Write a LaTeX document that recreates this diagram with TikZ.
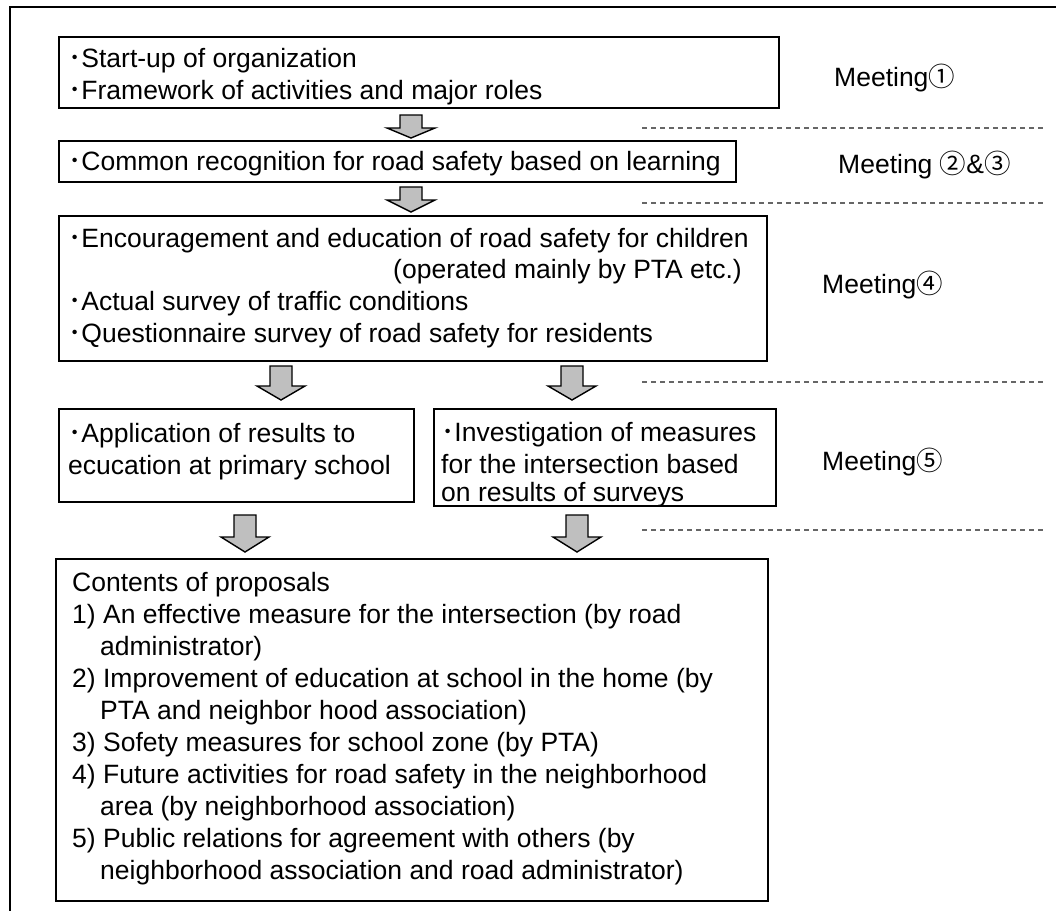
\documentclass[tikz,border=0pt]{standalone}
\usepackage{fontspec}
\setmainfont{Liberation Sans}
\newfontfamily\cjk{Noto Sans CJK JP}
\newcommand\bul{{\cjk ･}}
\newcommand\cnum[1]{{\cjk #1}}
\newcommand\blockdown[4]{%
  \draw[blk] (#1-11,#2) -- (#1+11,#2) -- (#1+11,#3) -- (#1+24,#3) -- (#1,#4)
     -- (#1-24,#3) -- (#1-11,#3) -- cycle;}
\begin{document}
\begin{tikzpicture}[x=1pt,y=-1pt,
  box/.style={draw, line width=1.8pt, inner sep=0pt, anchor=north west},
  txt/.style={anchor=base west, inner sep=0pt, font=\fontsize{26.5}{32}\selectfont},
  mtg/.style={anchor=base west, inner sep=0pt, font=\fontsize{26.5}{32}\selectfont},
  sepline/.style={draw=black!60, line width=1.1pt, dash pattern=on 5pt off 4pt},
  blk/.style={draw=black, line width=1.4pt, fill=black!25, line join=miter}]
\useasboundingbox (0,0) rectangle (1056,910);
\fill[white] (0,0) rectangle (1056,910);
% outer frame
\draw[line width=2.8pt] (10,920) -- (10,7) -- (1070,7);
% boxes
\node[box, minimum width=720, minimum height=71]  (b1)  at (58,36) {};
\node[box, minimum width=677, minimum height=41]  (b2)  at (58,140) {};
\node[box, minimum width=708, minimum height=145] (b3)  at (58,215) {};
\node[box, minimum width=355, minimum height=93]  (b4a) at (58,408) {};
\node[box, minimum width=342, minimum height=97]  (b4b) at (433,408) {};
\node[box, minimum width=712, minimum height=342] (b5)  at (55,558) {};
% texts
\node[txt] (t1a) at (68,67) {\bul Start-up of organization};
\node[txt] (t1b) at (68,99) {\bul Framework of activities and major roles};
\node[txt] (t2)  at (68,170) {\bul Common recognition for road safety based on learning};
\node[txt] (t3a) at (68,247) {\bul Encouragement and education of road safety for children};
\node[txt, anchor=base east] (t3b) at (742,278) {(operated mainly by PTA etc.)};
\node[txt] (t3c) at (68,310) {\bul Actual survey of traffic conditions};
\node[txt] (t3d) at (68,342) {\bul Questionnaire survey of road safety for residents};
\node[txt] (t4a1) at (68,442) {\bul Application of results to};
\node[txt] (t4a2) at (68,474) {ecucation at primary school};
\node[txt] (t4b1) at (441,441) {\bul Investigation of measures};
\node[txt] (t4b2) at (441,473) {for the intersection based};
\node[txt] (t4b3) at (441,501) {on results of surveys};
\node[txt] (t5a) at (72,591) {Contents of proposals};
\node[txt] (t5b) at (72,623) {1) An effective measure for the intersection (by road};
\node[txt] (t5c) at (100,655) {administrator)};
\node[txt] (t5d) at (72,687) {2) Improvement of education at school in the home (by};
\node[txt] (t5e) at (100,719) {PTA and neighbor hood association)};
\node[txt] (t5f) at (72,751) {3) Sofety measures for school zone (by PTA)};
\node[txt] (t5g) at (72,783) {4) Future activities for road safety in the neighborhood};
\node[txt] (t5h) at (100,815) {area (by neighborhood association)};
\node[txt] (t5i) at (72,847) {5) Public relations for agreement with others (by};
\node[txt] (t5j) at (100,879) {neighborhood association and road administrator)};
% meeting labels
\node[mtg] (m1)  at (834,86)  {Meeting\cnum{①}};
\node[mtg] (m23) at (838,173) {Meeting \cnum{②}\&\cnum{③}};
\node[mtg] (m4)  at (822,293) {Meeting\cnum{④}};
\node[mtg] (m5)  at (822,470) {Meeting\cnum{⑤}};
% separators
\draw[sepline] (642,128) -- (1045,128);
\draw[sepline] (642,203) -- (1045,203);
\draw[sepline] (642,382) -- (1045,382);
\draw[sepline] (642,530) -- (1045,530);
% block arrows
\blockdown{411}{115}{128}{138}
\blockdown{411}{187}{200}{212}
\blockdown{281}{366}{386}{400}
\blockdown{572}{366}{386}{400}
\blockdown{245}{515}{537}{552}
\blockdown{577}{515}{537}{552}
\end{tikzpicture}
\end{document}
